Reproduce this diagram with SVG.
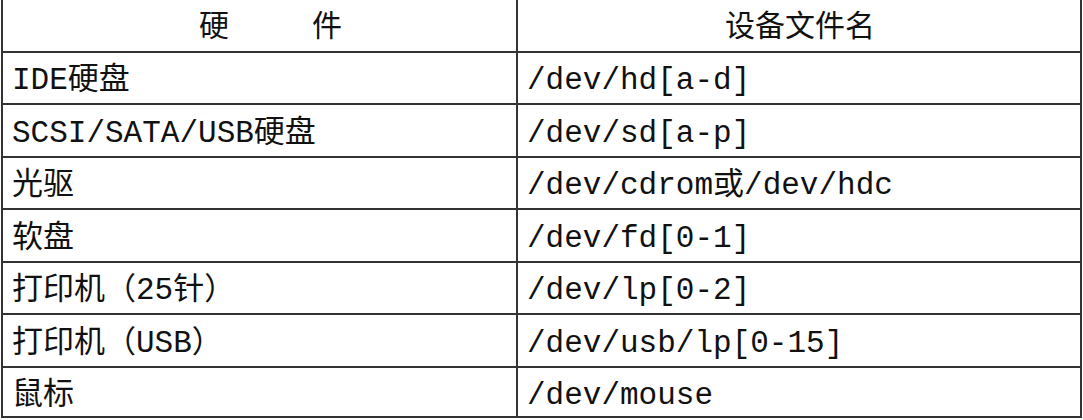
<svg xmlns="http://www.w3.org/2000/svg" width="1083" height="420" viewBox="0 0 1083 420">
<style>
.t{font-family:"Liberation Mono","Noto Sans CJK SC",monospace;font-size:31px;fill:#111}
.h{font-family:"Noto Sans CJK SC",sans-serif;font-size:30px;fill:#111;text-anchor:middle}
.l{stroke:#333;stroke-width:2;fill:none}
</style>
<rect x="0" y="0" width="1083" height="420" fill="#fff"/>
<g id="grid">
<rect class="l" x="2" y="-2" width="1079" height="419"/>
<line class="l" x1="517" y1="0" x2="517" y2="417"/>
<line class="l" x1="2" y1="52" x2="1081" y2="52"/>
<line class="l" x1="2" y1="104" x2="1081" y2="104"/>
<line class="l" x1="2" y1="157" x2="1081" y2="157"/>
<line class="l" x1="2" y1="209" x2="1081" y2="209"/>
<line class="l" x1="2" y1="262" x2="1081" y2="262"/>
<line class="l" x1="2" y1="314" x2="1081" y2="314"/>
<line class="l" x1="2" y1="367" x2="1081" y2="367"/>
</g>
<g id="header">
<text class="h" x="214" y="36">硬</text>
<text class="h" x="327" y="36">件</text>
<text class="h" x="800" y="36">设备文件名</text>
</g>
<g id="rows">
<text class="t" x="12" y="89">IDE硬盘</text><text class="t" x="527" y="89">/dev/hd[a-d]</text>
<text class="t" x="12" y="142">SCSI/SATA/USB硬盘</text><text class="t" x="527" y="142">/dev/sd[a-p]</text>
<text class="t" x="12" y="194">光驱</text><text class="t" x="527" y="194">/dev/cdrom或/dev/hdc</text>
<text class="t" x="12" y="247">软盘</text><text class="t" x="527" y="247">/dev/fd[0-1]</text>
<text class="t" x="12" y="299">打印机（25针）</text><text class="t" x="527" y="299">/dev/lp[0-2]</text>
<text class="t" x="12" y="352">打印机（USB）</text><text class="t" x="527" y="352">/dev/usb/lp[0-15]</text>
<text class="t" x="12" y="404">鼠标</text><text class="t" x="527" y="404">/dev/mouse</text>
</g>
</svg>
